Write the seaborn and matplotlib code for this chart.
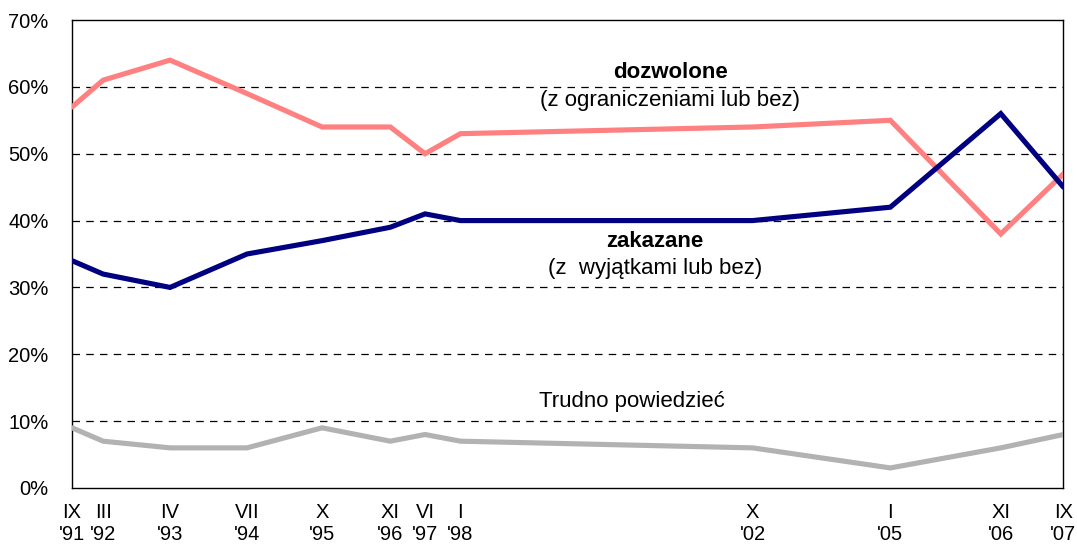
import numpy as np
import pandas as pd
import matplotlib
matplotlib.use("Agg")
import matplotlib.pyplot as plt
import seaborn as sns

# ── Data ────────────────────────────────────────────────────────────────
tick_labels = ["IX\n'91", "III\n'92", "IV\n'93", "VII\n'94", "X\n'95", "XI\n'96",
               "VI\n'97", "I\n'98", "X\n'02", "I\n'05", "XI\n'06", "IX\n'07"]
# survey dates as decimal years (as spaced in the original)
survey_time = [1991.67, 1992.17, 1993.25, 1994.49, 1995.70, 1996.80,
               1997.36, 1997.93, 2002.64, 2004.86, 2006.64, 2007.65]

dozwolone = [57, 61, 64, 59, 54, 54, 50, 53, 54, 55, 38, 47]
zakazane = [34, 32, 30, 35, 37, 39, 41, 40, 40, 42, 56, 45]
trudno = [9, 7, 6, 6, 9, 7, 8, 7, 6, 3, 6, 8]

series_names = ["dozwolone", "zakazane", "trudno"]
colors = {"dozwolone": "#FF8080", "zakazane": "#000080", "trudno": "#B2B2B2"}

df = pd.DataFrame({"t": survey_time, "dozwolone": dozwolone,
                   "zakazane": zakazane, "trudno": trudno})
long = df.melt(id_vars="t", var_name="series", value_name="pct")

# ── Style ───────────────────────────────────────────────────────────────
sns.set_style("white", {"text.color": "black", "xtick.color": "black",
                        "ytick.color": "black", "axes.labelcolor": "black"})
plt.rcParams['font.family'] = ['Liberation Sans', 'DejaVu Sans']

fig = plt.figure(figsize=(10.77, 5.47), dpi=100)
ax = fig.add_axes([0.0669, 0.1079, 0.9205, 0.8555])

sns.lineplot(data=long, x="t", y="pct", hue="series", hue_order=series_names,
             palette=colors, linewidth=3.7, legend=False, ax=ax, zorder=3,
             solid_joinstyle="miter")

ax.set_xlim(survey_time[0], survey_time[-1])
ax.set_ylim(0, 70)
ax.set_yticks(range(0, 71, 10))
ax.set_yticklabels([f"{v}%" for v in range(0, 71, 10)], fontsize=14.5)
ax.set_xticks(survey_time)
ax.set_xticklabels(tick_labels, fontsize=14.5, linespacing=1.2)
ax.tick_params(axis="y", length=0, pad=17)
ax.tick_params(axis="x", length=0, pad=11)
ax.set_xlabel("")
ax.set_ylabel("")

for y in range(10, 70, 10):
    ax.axhline(y, color="black", linewidth=0.9, linestyle=(0, (6, 5)), zorder=1)

for side in ["left", "bottom", "top", "right"]:
    ax.spines[side].set_visible(True)
    ax.spines[side].set_color("black")
    ax.spines[side].set_linewidth(1.0)

# ── Labels on the chart ─────────────────────────────────────────────────
fs = 16
ax.text(2001.31, 62.1, "dozwolone", ha="center", va="center", fontsize=fs, fontweight="bold")
ax.text(2001.31, 57.9, "(z ograniczeniami lub bez)", ha="center", va="center", fontsize=fs)
ax.text(2001.07, 36.9, "zakazane", ha="center", va="center", fontsize=fs, fontweight="bold")
ax.text(2001.07, 32.9, "(z  wyjątkami lub bez)", ha="center", va="center", fontsize=fs)
ax.text(2000.70, 12.9, "Trudno powiedzieć", ha="center", va="center", fontsize=fs)

fig.savefig("out.png", dpi=100)
